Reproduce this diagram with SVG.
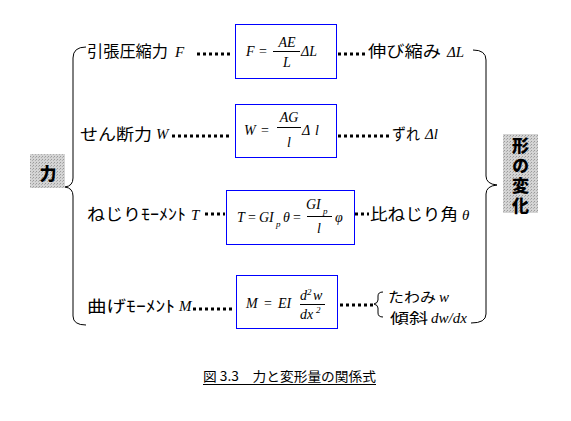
<svg xmlns="http://www.w3.org/2000/svg" width="571" height="421" viewBox="0 0 571 421">
<defs>
<pattern id="stip" width="3" height="3" patternUnits="userSpaceOnUse">
<rect width="3" height="3" fill="#d4d4d4"/>
<rect x="0" y="0" width="1" height="1" fill="#9a9a9a"/>
<rect x="2" y="1" width="1" height="1" fill="#b0b0b0"/>
</pattern>
<style>
.jp{font-family:"Noto Sans CJK JP","Noto Sans",sans-serif;font-size:16px;fill:#000}
.js{font-family:"Noto Sans CJK JP","Noto Sans",sans-serif;font-size:14px;fill:#000}
.jb{font-family:"Noto Sans CJK JP","Noto Sans",sans-serif;font-size:17px;font-weight:900;fill:#000}
.m{font-family:"Liberation Serif","Times New Roman",serif;font-style:italic;font-size:14px;fill:#000}
.v{font-family:"Liberation Serif","Times New Roman",serif;font-style:italic;font-size:15px;fill:#000}
.r{font-family:"Liberation Serif","Times New Roman",serif;font-size:14px;fill:#000}
.sub{font-family:"Liberation Serif","Times New Roman",serif;font-style:italic;font-size:9px;fill:#000}
.box{fill:#fff;stroke:#0000ff;stroke-width:1}
.dot{stroke:#000;stroke-width:3;stroke-dasharray:3 3;fill:none}
.br{stroke:#000;stroke-width:1;fill:none}
.fl{stroke:#000;stroke-width:1}
.cap{font-family:"Noto Sans CJK JP","Noto Sans",sans-serif;font-size:13px;fill:#000}
</style>
</defs>
<rect width="571" height="421" fill="#fff"/>

<g id="connectors">
<line class="dot" x1="197" y1="54" x2="232" y2="54"/>
<line class="dot" x1="338" y1="54" x2="367" y2="54"/>
<line class="dot" x1="172" y1="136" x2="232" y2="136"/>
<line class="dot" x1="338" y1="136" x2="391" y2="136"/>
<line class="dot" x1="205" y1="214" x2="225" y2="214"/>
<line class="dot" x1="355" y1="214" x2="369" y2="214"/>
<line class="dot" x1="193" y1="309" x2="233" y2="309"/>
<line class="dot" x1="340" y1="305" x2="374" y2="305"/>
<path class="br" d="M86 47 Q73 47 73 58 L73 178 Q73 186 65 187 Q73 188 73 196 L73 316 Q73 325 86 325"/>
<path class="br" d="M473 50 Q486 50 486 60 L486 176 Q486 184 497 185 Q486 186 486 194 L486 314 Q486 323 471 323"/>
<path class="br" d="M383 292 Q378 292 378 296 L378 300 Q378 303 374 304 Q378 305 378 308 L378 313 Q378 317 383 317"/>
</g>

<g id="force">
<rect x="30" y="154" width="35" height="34" fill="url(#stip)"/>
<text class="jb" x="48" y="180" text-anchor="middle">力</text>
</g>

<g id="deform">
<rect x="503" y="134" width="35" height="79" fill="url(#stip)"/>
<text class="jb" x="520.5" y="137" font-size="16" writing-mode="tb" letter-spacing="3">形の変化</text>
</g>

<g id="row1-left">
<text class="jp" x="87" y="57" textLength="81" lengthAdjust="spacingAndGlyphs">引張圧縮力</text>
<text class="v" x="175" y="57">F</text>
</g>
<g id="row1-box">
<rect class="box" x="235.5" y="24.5" width="101" height="54"/>
<text class="m" x="246" y="56">F</text>
<text class="r" x="259" y="56">=</text>
<text class="m" x="287" y="47" text-anchor="middle">AE</text>
<line class="fl" x1="273" y1="51.5" x2="300" y2="51.5"/>
<text class="m" x="287" y="67" text-anchor="middle">L</text>
<text class="m" x="301" y="56">ΔL</text>
</g>
<g id="row1-right">
<text class="jp" x="368" y="57" textLength="73" lengthAdjust="spacingAndGlyphs">伸び縮み</text>
<text class="v" x="447" y="57">ΔL</text>
</g>

<g id="row2-left">
<text class="jp" x="80" y="140" textLength="72" lengthAdjust="spacingAndGlyphs">せん断力</text>
<text class="v" x="156" y="139">W</text>
</g>
<g id="row2-box">
<rect class="box" x="235.5" y="104.5" width="101" height="53"/>
<text class="m" x="244" y="135">W</text>
<text class="r" x="261" y="135">=</text>
<text class="m" x="289" y="122" text-anchor="middle">AG</text>
<line class="fl" x1="277" y1="127.5" x2="301" y2="127.5"/>
<text class="m" x="289" y="147" text-anchor="middle">l</text>
<text class="m" x="302" y="135">Δ</text>
<text class="m" x="315" y="135">l</text>
</g>
<g id="row2-right">
<text class="jp" x="392" y="140" textLength="28" lengthAdjust="spacingAndGlyphs">ずれ</text>
<text class="v" x="425" y="139">Δl</text>
</g>

<g id="row3-left">
<text class="jp" x="87" y="220" textLength="99" lengthAdjust="spacingAndGlyphs">ねじりﾓｰﾒﾝﾄ</text>
<text class="v" x="191" y="220">T</text>
</g>
<g id="row3-box">
<rect class="box" x="226.5" y="190.5" width="128" height="54"/>
<text class="m" x="237" y="222">T</text>
<text class="r" x="248" y="222">=</text>
<text class="m" x="259" y="222">GI</text>
<text class="sub" x="276" y="227">p</text>
<text class="m" x="283" y="222">θ</text>
<text class="r" x="293" y="222">=</text>
<text class="m" x="306" y="209">GI</text>
<text class="sub" x="323" y="214">p</text>
<line class="fl" x1="307" y1="216.5" x2="332" y2="216.5"/>
<text class="m" x="319" y="233" text-anchor="middle">l</text>
<text class="m" x="335" y="222">φ</text>
</g>
<g id="row3-right">
<text class="jp" x="370" y="220" textLength="88" lengthAdjust="spacingAndGlyphs">比ねじり角</text>
<text class="v" x="462" y="220">θ</text>
</g>

<g id="row4-left">
<text class="jp" x="87" y="312" textLength="88" lengthAdjust="spacingAndGlyphs">曲げﾓｰﾒﾝﾄ</text>
<text class="v" x="179" y="311">M</text>
</g>
<g id="row4-box">
<rect class="box" x="236.5" y="275.5" width="101" height="53"/>
<text class="m" x="246" y="308">M</text>
<text class="r" x="264" y="308">=</text>
<text class="m" x="278" y="308">EI</text>
<text class="m" x="300" y="300">d</text>
<text class="sub" x="307" y="295" font-style="normal">2</text>
<text class="m" x="313" y="300">w</text>
<line class="fl" x1="300" y1="304.5" x2="325" y2="304.5"/>
<text class="m" x="300" y="319">dx</text>
<text class="sub" x="316" y="313" font-style="normal">2</text>
</g>
<g id="row4-right">
<text class="js" x="388" y="302" textLength="48" lengthAdjust="spacingAndGlyphs">たわみ</text>
<text class="v" x="439" y="302">w</text>
<text class="js" x="390" y="323" textLength="38" lengthAdjust="spacingAndGlyphs">傾斜</text>
<text class="v" x="431" y="323">dw/dx</text>
</g>

<g id="caption">
<text class="cap" x="203" y="381" textLength="173" lengthAdjust="spacingAndGlyphs">図 3.3　力と変形量の関係式</text>
<line x1="203" y1="384.5" x2="376" y2="384.5" stroke="#000" stroke-width="1"/>
</g>
</svg>
